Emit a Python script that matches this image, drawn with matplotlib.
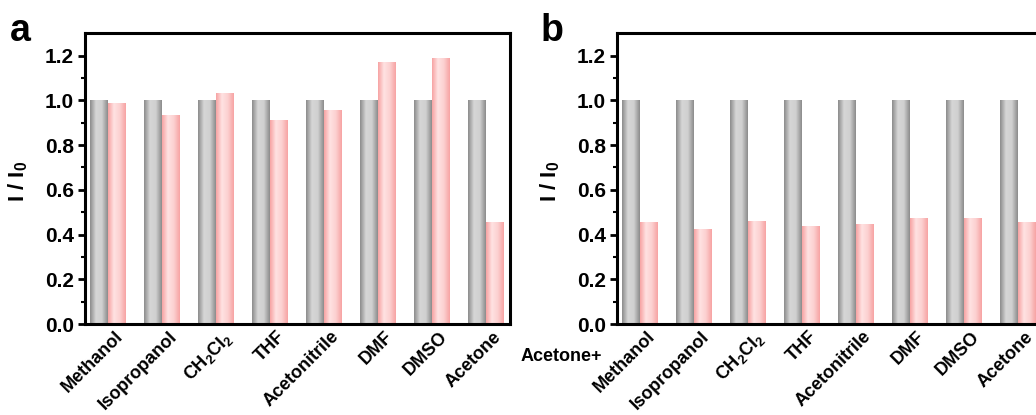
import matplotlib.pyplot as plt
import numpy as np
from matplotlib.colors import LinearSegmentedColormap

plt.rcParams["font.family"] = ["Liberation Sans", "DejaVu Sans"]
plt.rcParams["font.weight"] = "bold"
plt.rcParams["mathtext.fontset"] = "custom"
plt.rcParams["mathtext.rm"] = "Liberation Sans:bold"
plt.rcParams["mathtext.it"] = "Liberation Sans:bold"
plt.rcParams["mathtext.bf"] = "Liberation Sans:bold"

solvents = ["Methanol", "Isopropanol", r"CH$_2$Cl$_2$", "THF",
            "Acetonitrile", "DMF", "DMSO", "Acetone"]
blank_a = [1.0, 1.0, 1.0, 1.0, 1.0, 1.0, 1.0, 1.0]
ratio_a = [0.987, 0.933, 1.031, 0.912, 0.958, 1.170, 1.190, 0.457]
blank_b = [1.0, 1.0, 1.0, 1.0, 1.0, 1.0, 1.0, 1.0]
ratio_b = [0.457, 0.427, 0.461, 0.439, 0.446, 0.472, 0.472, 0.457]
yticks = [0.0, 0.2, 0.4, 0.6, 0.8, 1.0, 1.2]

gray_cmap = LinearSegmentedColormap.from_list(
    "cyl_gray", ["#8c8c8c", "#d6d6d6", "#d0d0d0", "#8c8c8c"])
pink_cmap = LinearSegmentedColormap.from_list(
    "cyl_pink", ["#f7a3a3", "#ffe2e2", "#fcd0d0", "#f7a3a3"])
ramp = np.linspace(0, 1, 64).reshape(1, -1)


def shade_bars(ax, bars, cmap):
    # paint each bar with a horizontal gradient clipped to its outline
    for b in bars:
        x0, y0 = b.get_x(), b.get_y()
        w, h = b.get_width(), b.get_height()
        b.set_facecolor("none")
        b.set_edgecolor("none")
        im = ax.imshow(ramp, cmap=cmap, aspect="auto",
                       extent=(x0, x0 + w, y0, y0 + h), zorder=2,
                       interpolation="bilinear")
        im.set_clip_path(b)


def draw_panel(ax, blank, ratio):
    x = np.arange(len(solvents))
    w = 0.33
    g = ax.bar(x - w / 2, blank, width=w, zorder=2)
    p = ax.bar(x + w / 2, ratio, width=w, zorder=2)
    shade_bars(ax, g, gray_cmap)
    shade_bars(ax, p, pink_cmap)
    ax.set_xlim(-0.43, 7.44)
    ax.set_ylim(0, 1.3)
    ax.set_yticks(yticks)
    ax.set_yticks(np.arange(0.1, 1.3, 0.2), minor=True)
    ax.yaxis.set_major_formatter(plt.FuncFormatter(lambda v, _: f"{v:.1f}"))
    ax.tick_params(axis="y", which="major", direction="out", length=5,
                   width=2, labelsize=15, pad=3)
    ax.tick_params(axis="y", which="minor", direction="out", length=3,
                   width=1.5)
    ax.set_xticks(x + 0.12)
    ax.set_xticklabels(solvents, rotation=45, ha="right", va="top",
                       rotation_mode="anchor", fontsize=13)
    ax.tick_params(axis="x", length=0, pad=3)
    for s in ax.spines.values():
        s.set_linewidth(2.2)
    ax.set_ylabel(r"I / I$_0$", fontsize=16, fontweight="bold")
    ax.yaxis.set_label_coords(-0.13, 0.49)


fig = plt.figure(figsize=(10.36, 4.15), dpi=100)
ax_a = fig.add_axes([0.082, 0.219, 0.410, 0.701])
ax_b = fig.add_axes([0.5956, 0.219, 0.410, 0.701])
draw_panel(ax_a, blank_a, ratio_a)
draw_panel(ax_b, blank_b, ratio_b)

fig.text(0.010, 0.925, "a", fontsize=27, fontweight="bold", va="center")
fig.text(0.522, 0.925, "b", fontsize=27, fontweight="bold", va="center")
fig.text(0.502, 0.14, "Acetone+", fontsize=13, fontweight="bold", va="center")

fig.savefig("out.png", dpi=100)
